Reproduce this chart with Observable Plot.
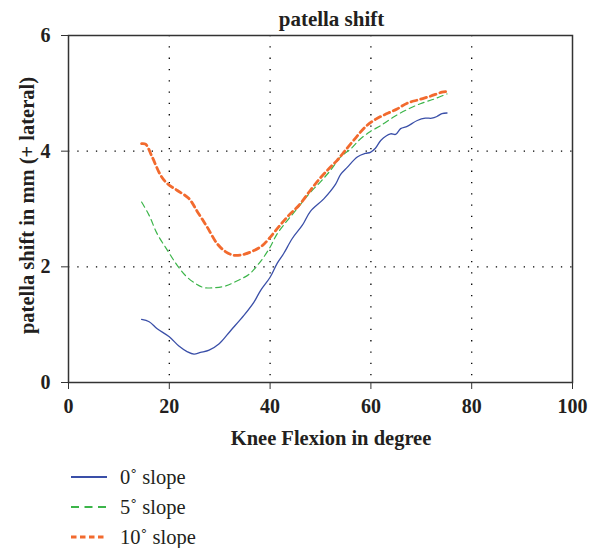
<!DOCTYPE html>
<html><head><meta charset="utf-8">
<script src="https://cdn.jsdelivr.net/npm/d3@7"></script>
<script src="https://cdn.jsdelivr.net/npm/@observablehq/plot@0.6"></script>
<style>
body{margin:0;background:#fff;}
#wrap{position:relative;width:605px;height:548px;font-family:"Liberation Serif","DejaVu Serif",serif;color:#231f20;}
#chart{position:absolute;left:0;top:0;}
#legend{position:absolute;left:71px;top:462px;}
.item{height:30px;display:flex;align-items:center;font-size:20.5px;line-height:30px;}
.item svg{margin-right:13px;}
</style></head>
<body><div id="wrap"><div id="chart"></div><div id="legend"></div></div>
<script>
const title = "patella shift";
const xLabel = "Knee Flexion in degree";
const yLabel = "patella shift in mm (+ lateral)";
const xTicks = [0, 20, 40, 60, 80, 100];
const yTicks = [0, 2, 4, 6];
const seriesNames = ["0˚ slope", "5˚ slope", "10˚ slope"];
const seriesColors = ["#3a4fa8", "#3cb54a", "#f26a2e"];

const slope0x = [14.5,16,17.6,20,21.9,23.6,24.9,26.2,27.9,29.9,32.2,34.8,36.8,38.1,40,41.4,42.7,44.4,46.4,48,50.7,53,54,55.3,57.3,58.9,59.9,60.9,62,63.9,64.9,65.9,67.2,69.2,70.8,72.1,73.1,74.1,75.1];
const slope0y = [1.09,1.05,0.93,0.79,0.63,0.53,0.49,0.52,0.56,0.67,0.90,1.16,1.39,1.59,1.82,2.06,2.23,2.49,2.72,2.96,3.18,3.43,3.60,3.72,3.90,3.96,3.98,4.05,4.19,4.30,4.29,4.39,4.43,4.53,4.57,4.57,4.60,4.65,4.66];
const slope5x = [14.5,16,17.6,19.6,21.3,23.2,25.2,26.9,28.9,31.2,33.5,35.8,37.8,39.8,41.4,43.4,45.4,47.7,50,52,54,56,57.9,59.9,61.9,64.5,67.2,69.8,72.5,75.1];
const slope5y = [3.12,2.89,2.57,2.29,2.06,1.85,1.71,1.64,1.64,1.67,1.76,1.87,2.06,2.31,2.57,2.80,3.01,3.26,3.47,3.67,3.90,4.04,4.21,4.34,4.44,4.59,4.72,4.82,4.90,4.99];
const slope10x = [14.5,15.3,16.6,18.3,19.6,21.6,23.9,25.6,27.5,29.5,31.2,32.8,34.5,36.5,38.5,39.8,41.7,43.7,45.7,47.7,49.7,51.7,53.3,54.6,56.6,58.9,60.9,63.2,65.2,67.2,69.5,71.8,74.1,75];
const slope10y = [4.13,4.12,3.90,3.58,3.44,3.32,3.18,2.95,2.69,2.40,2.26,2.20,2.21,2.27,2.37,2.49,2.69,2.89,3.06,3.29,3.51,3.70,3.84,3.98,4.19,4.42,4.55,4.65,4.73,4.83,4.89,4.95,5.02,5.03];

const toRows = (xs, ys) => xs.map((x, i) => ({x, y: ys[i]}));
const d0 = toRows(slope0x, slope0y), d5 = toRows(slope5x, slope5y), d10 = toRows(slope10x, slope10y);
const styles = [
  {stroke: seriesColors[0], strokeWidth: 1.3, dash: null},
  {stroke: seriesColors[1], strokeWidth: 1.2, dash: "6,4"},
  {stroke: seriesColors[2], strokeWidth: 2.8, dash: "6,4"}
];
const ink = "#231f20";

const plot = Plot.plot({
  width: 605, height: 455,
  marginLeft: 68, marginRight: 33, marginTop: 35, marginBottom: 73,
  style: {fontFamily: '"Liberation Serif", serif', color: ink, background: "#fff", overflow: "visible"},
  x: {domain: [0, 100]},
  y: {domain: [0, 6]},
  marks: [
    Plot.gridX(xTicks.slice(1, -1), {stroke: "#000", strokeOpacity: 1, strokeWidth: 1.3, strokeDasharray: "1.3,10"}),
    Plot.gridY(yTicks.slice(1, -1), {stroke: "#000", strokeOpacity: 1, strokeWidth: 1.3, strokeDasharray: "1.3,8"}),
    Plot.axisX(xTicks, {tickSize: 7, tickPadding: 9, fontSize: 20, fontWeight: "bold", label: null, stroke: "#333", fill: ink, tickFormat: d3.format("d")}),
    Plot.axisY(yTicks, {tickSize: 7, tickPadding: 11, fontSize: 20, fontWeight: "bold", label: null, stroke: "#333", fill: ink, tickFormat: d3.format("d")}),
    Plot.frame({stroke: "#333", strokeWidth: 1.5}),
    Plot.line(d0, {x: "x", y: "y", stroke: styles[0].stroke, strokeWidth: styles[0].strokeWidth, curve: "catmull-rom"}),
    Plot.line(d5, {x: "x", y: "y", stroke: styles[1].stroke, strokeWidth: styles[1].strokeWidth, strokeDasharray: styles[1].dash, curve: "catmull-rom"}),
    Plot.line(d10, {x: "x", y: "y", stroke: styles[2].stroke, strokeWidth: styles[2].strokeWidth, strokeDasharray: styles[2].dash, curve: "catmull-rom"}),
    Plot.text([title], {frameAnchor: "top", textAnchor: "middle", lineAnchor: "middle", dx: 11, dy: -16.7, fontSize: 21, fontWeight: "bold", fill: ink}),
    Plot.text([xLabel], {frameAnchor: "bottom", textAnchor: "middle", lineAnchor: "middle", dx: 10.5, dy: 56.4, fontSize: 20.5, fontWeight: "bold", fill: ink}),
    Plot.text([yLabel], {frameAnchor: "left", textAnchor: "middle", lineAnchor: "middle", dx: -41, dy: -3.5, rotate: -90, fontSize: 20.5, fontWeight: "bold", fill: ink})
  ]
});
document.getElementById("chart").appendChild(plot);

const legend = document.getElementById("legend");
seriesNames.forEach((name, i) => {
  const s = styles[i];
  const div = document.createElement("div");
  div.className = "item";
  const dash = s.dash ? `stroke-dasharray="${i === 1 ? '8,5.5' : '5.5,3.5'}"` : "";
  div.innerHTML = `<svg width="36" height="6"><line x1="0" x2="36" y1="3" y2="3" stroke="${s.stroke}" stroke-width="${Math.max(s.strokeWidth, 2)}" ${dash}/></svg><span>${name}</span>`;
  legend.appendChild(div);
});
</script></body></html>
